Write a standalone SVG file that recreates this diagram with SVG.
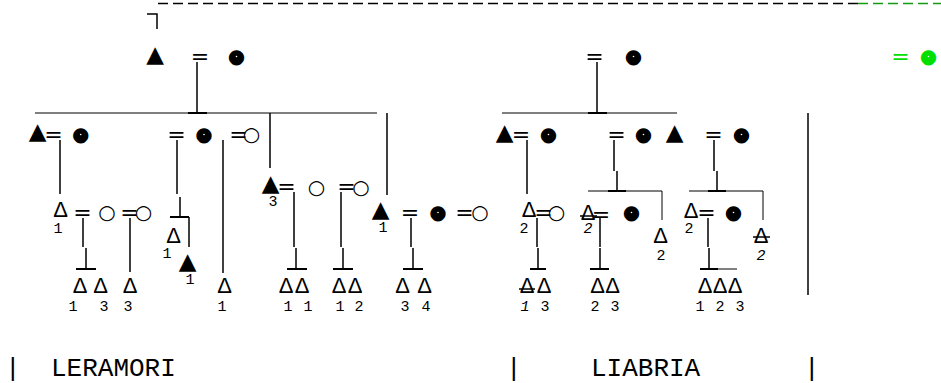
<svg xmlns="http://www.w3.org/2000/svg" width="941" height="383" viewBox="0 0 941 383">
<style>
.s{font-family:"DejaVu Sans",sans-serif;text-anchor:middle;fill:#000}
.t{font-size:23px}
.d{font-family:"Liberation Sans",sans-serif;font-size:22px}
.c{font-size:20px}
.e{font-size:22px}
.n{font-family:"Liberation Mono",monospace;font-size:15px}
.i{font-style:italic}
.lbl{font-family:"Liberation Mono",monospace;font-size:26px;fill:#000}
.v{stroke:#000;stroke-width:1.5;fill:none}
.h{stroke:#000;stroke-width:1;fill:none}
.b{stroke:#000;stroke-width:2;fill:none}
.g{fill:#00e000}
.w{fill:#fff}
</style>
<rect width="941" height="383" fill="#fff"/>
<g id="connectors">
<line x1="158" y1="3.5" x2="858" y2="3.5" stroke="#000" stroke-width="1.5" stroke-dasharray="10 5"/>
<line x1="858" y1="3.5" x2="941" y2="3.5" stroke="#139a13" stroke-width="1.5" stroke-dasharray="10 5"/>
<path class="v" d="M147 14H157V29"/>
<path class="v" d="M197 62V113"/>
<path class="h" d="M35 113H377"/>
<path class="b" d="M188 113H207"/>
<path class="v" d="M60 140V194"/>
<path class="v" d="M83 218V247M86 248V269"/>
<path class="b" d="M76 269H96"/>
<path class="v" d="M130 218V272"/>
<path class="v" d="M177 140V194M180 197V217"/>
<path class="b" d="M170 217H189"/>
<path class="v" d="M189 217V247"/>
<path class="v" d="M223 140V273"/>
<path class="v" d="M270 113V168"/>
<path class="v" d="M294 192V247M296 248V269"/>
<path class="b" d="M287 269H307"/>
<path class="v" d="M341 192V247M343 248V269"/>
<path class="b" d="M333 269H353"/>
<path class="v" d="M387 113V195"/>
<path class="v" d="M411 218V247M413 248V269"/>
<path class="b" d="M403 269H423"/>
<path class="v" d="M597 62V113"/>
<path class="h" d="M502 113H677"/>
<path class="b" d="M588 113H607"/>
<path class="v" d="M527 140V194"/>
<path class="v" d="M537 218V247M538 248V269"/>
<path class="b" d="M530 269H546"/>
<path class="v" d="M614 140V171M617 171V191"/>
<path class="h" d="M588 191H662V220"/>
<path class="b" d="M608 191H626"/>
<path class="v" d="M600 218V247M600 248V269"/>
<path class="b" d="M590 269H609"/>
<path class="v" d="M714 140V171M717 171V191"/>
<path class="h" d="M689 191H763V220"/>
<path class="b" d="M708 191H726"/>
<path class="v" d="M708 218V247M709 248V269"/>
<path class="b" d="M700 269H718"/>
<path class="h" d="M718 269H737"/>
<path class="v" d="M808 113V295"/>
<path class="v" d="M519 289H535"/>
<path class="v" d="M580 216H597"/>
<path class="v" d="M753 237H770"/>
</g>
<g id="n-top-couple">
<text class="s"><tspan class="t" x="155" y="62">▲</tspan><tspan class="e" x="200" y="64">=</tspan><tspan class="c" x="236.5" y="63">●</tspan></text>
<circle class="w" cx="236.5" cy="56.5" r="0.8"/>
</g>
<g id="n-a1">
<text class="s"><tspan class="t" x="37.5" y="139">▲</tspan><tspan class="e" x="53.5" y="142">=</tspan><tspan class="c" x="80.7" y="141">●</tspan></text>
<circle class="w" cx="80.7" cy="134.5" r="0.8"/>
</g>
<g id="n-a1-son">
<text class="s"><tspan class="d" x="60.5" y="217">Δ</tspan><tspan class="n" x="58" y="233">1</tspan><tspan class="e" x="82.5" y="220">=</tspan><tspan class="c" x="107" y="219">○</tspan><tspan class="e" x="129.5" y="220">=</tspan><tspan class="c" x="143.5" y="219">○</tspan></text>
</g>
<g id="n-a1-grandsons">
<text class="s"><tspan class="d" x="80" y="293">Δ</tspan><tspan class="d" x="100.5" y="293">Δ</tspan><tspan class="d" x="130" y="293">Δ</tspan><tspan class="n" x="73" y="311">1</tspan><tspan class="n" x="104" y="311">3</tspan><tspan class="n" x="128" y="311">3</tspan></text>
</g>
<g id="n-a2">
<text class="s"><tspan class="e" x="176.5" y="142">=</tspan><tspan class="c" x="204" y="141">●</tspan></text>
<circle class="w" cx="204" cy="134.5" r="0.8"/>
<text class="s"><tspan class="d" x="173.5" y="243">Δ</tspan><tspan class="n" x="167" y="258">1</tspan><tspan class="t" x="187.5" y="269">▲</tspan><tspan class="n" x="190" y="284">1</tspan></text>
</g>
<g id="n-a3">
<text class="s"><tspan class="e" x="238.5" y="142">=</tspan><tspan class="c" x="251.5" y="141">○</tspan></text>
<text class="s"><tspan class="d" x="224.5" y="293">Δ</tspan><tspan class="n" x="222" y="311">1</tspan></text>
</g>
<g id="n-a4">
<text class="s"><tspan class="t" x="270.5" y="191">▲</tspan><tspan class="n" x="273" y="206">3</tspan><tspan class="e" x="286.5" y="194">=</tspan><tspan class="c" x="316.5" y="194">○</tspan><tspan class="e" x="346.5" y="194">=</tspan><tspan class="c" x="361" y="194">○</tspan></text>
<text class="s"><tspan class="d" x="286" y="293">Δ</tspan><tspan class="d" x="302" y="293">Δ</tspan><tspan class="n" x="288" y="311">1</tspan><tspan class="n" x="308" y="311">1</tspan></text>
<text class="s"><tspan class="d" x="339" y="293">Δ</tspan><tspan class="d" x="355" y="293">Δ</tspan><tspan class="n" x="340" y="311">1</tspan><tspan class="n" x="359" y="311">2</tspan></text>
</g>
<g id="n-a5">
<text class="s"><tspan class="t" x="380.5" y="217">▲</tspan><tspan class="n" x="383" y="232">1</tspan><tspan class="e" x="410" y="220">=</tspan><tspan class="c" x="438" y="219">●</tspan><tspan class="e" x="464.5" y="220">=</tspan><tspan class="c" x="480" y="219">○</tspan></text>
<circle class="w" cx="438" cy="212.5" r="0.8"/>
<text class="s"><tspan class="d" x="402.5" y="293">Δ</tspan><tspan class="d" x="424.5" y="293">Δ</tspan><tspan class="n" x="405" y="311">3</tspan><tspan class="n" x="426" y="311">4</tspan></text>
</g>
<g id="n-b-couple">
<text class="s"><tspan class="e" x="594.5" y="64">=</tspan><tspan class="c" x="633.5" y="63">●</tspan></text>
<circle class="w" cx="633.5" cy="56.5" r="0.8"/>
</g>
<g id="n-b1">
<text class="s"><tspan class="t" x="504.5" y="140">▲</tspan><tspan class="e" x="521" y="142">=</tspan><tspan class="c" x="548.5" y="141">●</tspan></text>
<circle class="w" cx="548.5" cy="134.5" r="0.8"/>
<text class="s"><tspan class="d" x="529" y="217">Δ</tspan><tspan class="n" x="524" y="233">2</tspan><tspan class="e" x="543.5" y="220">=</tspan><tspan class="c" x="556.5" y="219">○</tspan></text>
<text class="s"><tspan class="d" x="527" y="293">Δ</tspan><tspan class="d" x="544" y="293">Δ</tspan><tspan class="n i" x="525" y="311">1</tspan><tspan class="n" x="545" y="311">3</tspan></text>
</g>
<g id="n-b2">
<text class="s"><tspan class="e" x="616.5" y="142">=</tspan><tspan class="c" x="643.5" y="141">●</tspan></text>
<circle class="w" cx="643.5" cy="134.5" r="0.8"/>
<text class="s"><tspan class="d" x="588" y="220">Δ</tspan><tspan class="n i" x="588" y="233">2</tspan><tspan class="e" x="601" y="222">=</tspan><tspan class="c" x="631.5" y="219">●</tspan></text>
<circle class="w" cx="631.5" cy="212.5" r="0.8"/>
<text class="s"><tspan class="d" x="597.5" y="293">Δ</tspan><tspan class="d" x="612.5" y="293">Δ</tspan><tspan class="n" x="595" y="311">2</tspan><tspan class="n" x="615" y="311">3</tspan></text>
<text class="s"><tspan class="d" x="660.5" y="243">Δ</tspan><tspan class="n" x="661" y="260">2</tspan></text>
</g>
<g id="n-b3">
<text class="s"><tspan class="t" x="674.5" y="140">▲</tspan><tspan class="e" x="713.5" y="142">=</tspan><tspan class="c" x="741.5" y="141">●</tspan></text>
<circle class="w" cx="741.5" cy="134.5" r="0.8"/>
<text class="s"><tspan class="d" x="691" y="218">Δ</tspan><tspan class="n" x="689" y="233">2</tspan><tspan class="e" x="706.5" y="220">=</tspan><tspan class="c" x="733.5" y="219">●</tspan></text>
<circle class="w" cx="733.5" cy="212.5" r="0.8"/>
<text class="s"><tspan class="d" x="705" y="293">Δ</tspan><tspan class="d" x="720" y="293">Δ</tspan><tspan class="d" x="735" y="293">Δ</tspan><tspan class="n" x="700" y="311">1</tspan><tspan class="n" x="720" y="311">2</tspan><tspan class="n" x="740" y="311">3</tspan></text>
<text class="s"><tspan class="d" x="761" y="243">Δ</tspan><tspan class="n i" x="761" y="260">2</tspan></text>
</g>
<g id="n-green">
<text class="s g"><tspan class="e" x="900.5" y="64">=</tspan><tspan class="c" x="928.5" y="63">●</tspan></text>
<circle class="w" cx="928.5" cy="56.5" r="0.8"/>
</g>
<g id="labels">
<text class="lbl" x="5" y="376">|</text>
<text class="lbl" x="51" y="376">LERAMORI</text>
<text class="lbl" x="506" y="376">|</text>
<text class="lbl" x="591" y="376">LIABRIA</text>
<text class="lbl" x="804" y="376">|</text>
</g>
</svg>
